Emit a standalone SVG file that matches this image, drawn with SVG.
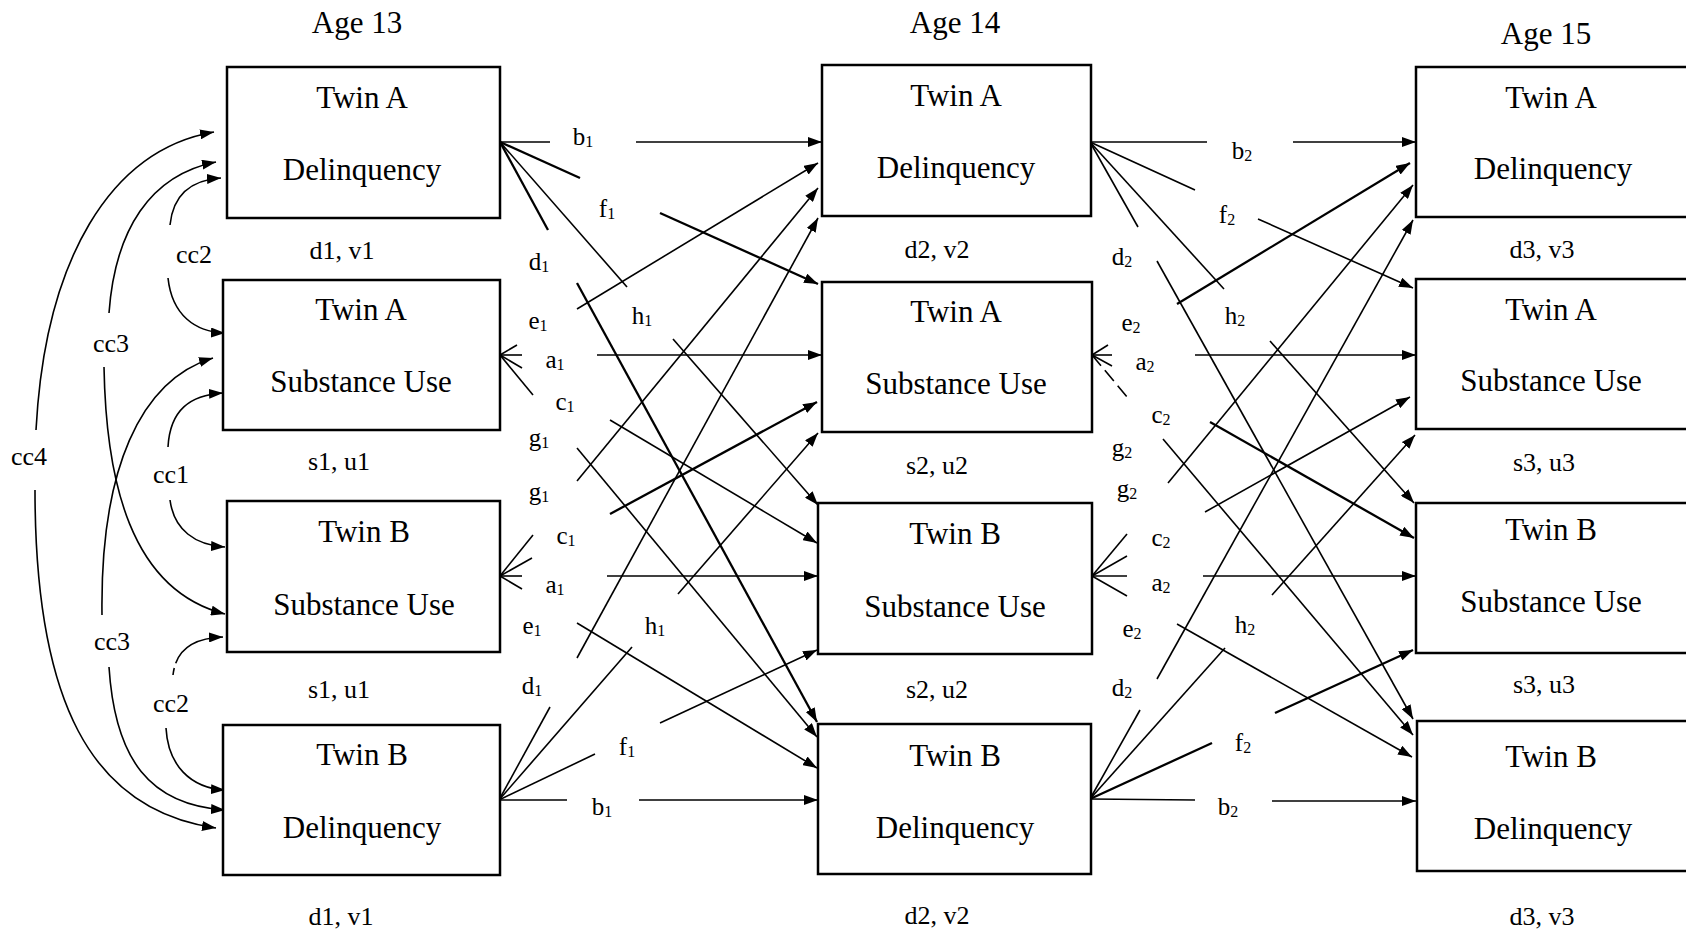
<svg xmlns="http://www.w3.org/2000/svg" width="1686" height="931" viewBox="0 0 1686 931">
<style>
.box{fill:#fff;stroke:#000;stroke-width:2.5}
.t{font-family:"Liberation Serif","Times New Roman",serif;font-size:31px;text-anchor:middle;fill:#000}
.lb{font-family:"Liberation Serif","Times New Roman",serif;font-size:26px;text-anchor:middle;fill:#000}
.pl{font-family:"Liberation Serif","Times New Roman",serif;font-size:25px;text-anchor:middle;fill:#000}
.sub{font-size:16px}
.c{fill:none;stroke:#000;stroke-width:1.6}
.k{stroke-width:2.3}
</style>
<defs>
<marker id="ah" markerWidth="14" markerHeight="10" refX="14" refY="5" orient="auto" markerUnits="userSpaceOnUse"><path d="M0,0 L14,5 L0,10 z" fill="#000"/></marker>
</defs>
<rect width="1686" height="931" fill="#fff"/>

<g id="headers">
<text class="t" x="357" y="33">Age 13</text>
<text class="t" x="955" y="33">Age 14</text>
<text class="t" x="1546" y="44">Age 15</text>
</g>

<g id="connectors">
<!-- left correlation curves -->
<path class="c" d="M36,430 C45,260 110,150 214,132" marker-end="url(#ah)"/>
<path class="c" d="M35,490 C35,700 90,810 216,828" marker-end="url(#ah)"/>
<path class="c" d="M109,313 C115,230 150,175 216,162" marker-end="url(#ah)"/>
<path class="c" d="M104,367 C106,480 130,590 225,614" marker-end="url(#ah)"/>
<path class="c" d="M102,615 C100,470 140,380 213,358" marker-end="url(#ah)"/>
<path class="c" d="M109,667 C115,760 150,805 225,810" marker-end="url(#ah)"/>
<path class="c" d="M168,447 C170,410 190,395 223,393" marker-end="url(#ah)"/>
<path class="c" d="M170,500 C174,530 195,545 225,547" marker-end="url(#ah)"/>
<path class="c" d="M170,225 C173,195 190,180 221,178" marker-end="url(#ah)"/>
<path class="c" d="M168,278 C172,315 195,332 225,333" marker-end="url(#ah)"/>
<path class="c" d="M173,675 C176,650 192,638 223,637" stroke-dasharray="7 5 200" marker-end="url(#ah)"/>
<path class="c" d="M166,728 C168,765 190,788 225,790" marker-end="url(#ah)"/>

<!-- Age 13 to Age 14 -->
<line class="c" x1="500" y1="142" x2="550" y2="142"/>
<line class="c" x1="636" y1="142" x2="822" y2="142" marker-end="url(#ah)"/>
<line class="c k" x1="500" y1="142" x2="580" y2="178"/>
<line class="c k" x1="660" y1="213" x2="818" y2="284" marker-end="url(#ah)"/>
<line class="c" x1="500" y1="142" x2="627" y2="287"/>
<line class="c" x1="673" y1="339" x2="818" y2="505" marker-end="url(#ah)"/>
<line class="c k" x1="500" y1="142" x2="548" y2="230"/>
<line class="c k" x1="577" y1="283" x2="817" y2="722" marker-end="url(#ah)"/>

<line class="c" x1="500" y1="355" x2="517" y2="345"/>
<line class="c" x1="577" y1="309" x2="818" y2="163" marker-end="url(#ah)"/>
<line class="c" x1="500" y1="355" x2="522" y2="355"/>
<line class="c" x1="597" y1="355" x2="822" y2="355" marker-end="url(#ah)"/>
<line class="c" x1="500" y1="355" x2="522" y2="368"/>
<line class="c" x1="610" y1="420" x2="817" y2="543" marker-end="url(#ah)"/>
<line class="c" x1="500" y1="355" x2="533" y2="395"/>
<line class="c" x1="577" y1="448" x2="817" y2="737" marker-end="url(#ah)"/>

<line class="c" x1="500" y1="576" x2="533" y2="535"/>
<line class="c" x1="577" y1="481" x2="818" y2="188" marker-end="url(#ah)"/>
<line class="c" x1="500" y1="576" x2="532" y2="558"/>
<line class="c k" x1="610" y1="514" x2="817" y2="402" marker-end="url(#ah)"/>
<line class="c" x1="500" y1="576" x2="522" y2="576"/>
<line class="c" x1="607" y1="576" x2="818" y2="576" marker-end="url(#ah)"/>
<line class="c" x1="500" y1="576" x2="522" y2="589"/>
<line class="c" x1="577" y1="623" x2="817" y2="768" marker-end="url(#ah)"/>

<line class="c" x1="499" y1="800" x2="567" y2="800"/>
<line class="c" x1="639" y1="800" x2="818" y2="800" marker-end="url(#ah)"/>
<line class="c" x1="499" y1="800" x2="595" y2="754"/>
<line class="c" x1="660" y1="723" x2="817" y2="650" marker-end="url(#ah)"/>
<line class="c" x1="499" y1="800" x2="632" y2="647"/>
<line class="c" x1="678" y1="594" x2="818" y2="433" marker-end="url(#ah)"/>
<line class="c" x1="499" y1="800" x2="550" y2="707"/>
<line class="c" x1="577" y1="658" x2="818" y2="218" marker-end="url(#ah)"/>

<!-- Age 14 to Age 15 -->
<line class="c" x1="1090" y1="142" x2="1207" y2="142"/>
<line class="c" x1="1293" y1="142" x2="1416" y2="142" marker-end="url(#ah)"/>
<line class="c" x1="1090" y1="142" x2="1195" y2="190"/>
<line class="c" x1="1258" y1="219" x2="1413" y2="288" marker-end="url(#ah)"/>
<line class="c" x1="1090" y1="142" x2="1224" y2="289"/>
<line class="c" x1="1270" y1="341" x2="1414" y2="503" marker-end="url(#ah)"/>
<line class="c" x1="1090" y1="142" x2="1138" y2="227"/>
<line class="c" x1="1157" y1="261" x2="1413" y2="719" marker-end="url(#ah)"/>

<line class="c" x1="1092" y1="355" x2="1108" y2="345"/>
<line class="c k" x1="1177" y1="304" x2="1410" y2="163" marker-end="url(#ah)"/>
<line class="c" x1="1092" y1="355" x2="1112" y2="355"/>
<line class="c" x1="1195" y1="355" x2="1416" y2="355" marker-end="url(#ah)"/>
<line class="c" x1="1092" y1="355" x2="1112" y2="366"/>
<line class="c k" x1="1210" y1="422" x2="1414" y2="538" marker-end="url(#ah)"/>
<line class="c" x1="1092" y1="355" x2="1128" y2="398" stroke-dasharray="14 6"/>
<line class="c" x1="1163" y1="439" x2="1413" y2="735" marker-end="url(#ah)"/>

<line class="c" x1="1092" y1="576" x2="1127" y2="534"/>
<line class="c" x1="1168" y1="483" x2="1413" y2="185" marker-end="url(#ah)"/>
<line class="c" x1="1092" y1="576" x2="1127" y2="556"/>
<line class="c" x1="1205" y1="512" x2="1410" y2="397" marker-end="url(#ah)"/>
<line class="c" x1="1092" y1="576" x2="1127" y2="576"/>
<line class="c" x1="1203" y1="576" x2="1416" y2="576" marker-end="url(#ah)"/>
<line class="c" x1="1092" y1="576" x2="1127" y2="596"/>
<line class="c" x1="1177" y1="624" x2="1412" y2="757" marker-end="url(#ah)"/>

<line class="c" x1="1090" y1="799" x2="1195" y2="800"/>
<line class="c" x1="1272" y1="801" x2="1416" y2="801" marker-end="url(#ah)"/>
<line class="c k" x1="1090" y1="799" x2="1212" y2="743"/>
<line class="c k" x1="1275" y1="713" x2="1413" y2="650" marker-end="url(#ah)"/>
<line class="c" x1="1090" y1="799" x2="1225" y2="648"/>
<line class="c" x1="1272" y1="595" x2="1415" y2="435" marker-end="url(#ah)"/>
<line class="c" x1="1090" y1="799" x2="1140" y2="710"/>
<line class="c" x1="1157" y1="679" x2="1413" y2="220" marker-end="url(#ah)"/>
</g>

<g id="connector-labels">
<text class="lb" x="194" y="263">cc2</text>
<text class="lb" x="111" y="352">cc3</text>
<text class="lb" x="29" y="465">cc4</text>
<text class="lb" x="171" y="483">cc1</text>
<text class="lb" x="112" y="650">cc3</text>
<text class="lb" x="171" y="712">cc2</text>

<text class="pl" x="583" y="145">b<tspan class="sub" dy="2">1</tspan></text>
<text class="pl" x="607" y="217">f<tspan class="sub" dy="2">1</tspan></text>
<text class="pl" x="539" y="270">d<tspan class="sub" dy="2">1</tspan></text>
<text class="pl" x="538" y="329">e<tspan class="sub" dy="2">1</tspan></text>
<text class="pl" x="642" y="324">h<tspan class="sub" dy="2">1</tspan></text>
<text class="pl" x="555" y="368">a<tspan class="sub" dy="2">1</tspan></text>
<text class="pl" x="565" y="410">c<tspan class="sub" dy="2">1</tspan></text>
<text class="pl" x="539" y="446">g<tspan class="sub" dy="2">1</tspan></text>
<text class="pl" x="539" y="500">g<tspan class="sub" dy="2">1</tspan></text>
<text class="pl" x="566" y="544">c<tspan class="sub" dy="2">1</tspan></text>
<text class="pl" x="555" y="593">a<tspan class="sub" dy="2">1</tspan></text>
<text class="pl" x="532" y="634">e<tspan class="sub" dy="2">1</tspan></text>
<text class="pl" x="655" y="634">h<tspan class="sub" dy="2">1</tspan></text>
<text class="pl" x="532" y="694">d<tspan class="sub" dy="2">1</tspan></text>
<text class="pl" x="627" y="755">f<tspan class="sub" dy="2">1</tspan></text>
<text class="pl" x="602" y="815">b<tspan class="sub" dy="2">1</tspan></text>

<text class="pl" x="1242" y="159">b<tspan class="sub" dy="2">2</tspan></text>
<text class="pl" x="1227" y="223">f<tspan class="sub" dy="2">2</tspan></text>
<text class="pl" x="1122" y="265">d<tspan class="sub" dy="2">2</tspan></text>
<text class="pl" x="1131" y="331">e<tspan class="sub" dy="2">2</tspan></text>
<text class="pl" x="1235" y="324">h<tspan class="sub" dy="2">2</tspan></text>
<text class="pl" x="1145" y="370">a<tspan class="sub" dy="2">2</tspan></text>
<text class="pl" x="1161" y="423">c<tspan class="sub" dy="2">2</tspan></text>
<text class="pl" x="1122" y="456">g<tspan class="sub" dy="2">2</tspan></text>
<text class="pl" x="1127" y="497">g<tspan class="sub" dy="2">2</tspan></text>
<text class="pl" x="1161" y="546">c<tspan class="sub" dy="2">2</tspan></text>
<text class="pl" x="1161" y="591">a<tspan class="sub" dy="2">2</tspan></text>
<text class="pl" x="1132" y="637">e<tspan class="sub" dy="2">2</tspan></text>
<text class="pl" x="1245" y="633">h<tspan class="sub" dy="2">2</tspan></text>
<text class="pl" x="1122" y="696">d<tspan class="sub" dy="2">2</tspan></text>
<text class="pl" x="1243" y="751">f<tspan class="sub" dy="2">2</tspan></text>
<text class="pl" x="1228" y="815">b<tspan class="sub" dy="2">2</tspan></text>
</g>

<g id="a-del-13"><rect class="box" x="227" y="67" width="273" height="151"/><text class="t" x="362" y="108">Twin A</text><text class="t" x="362" y="180">Delinquency</text><text class="lb" x="342" y="259">d1, v1</text></g>
<g id="a-su-13"><rect class="box" x="223" y="280" width="277" height="150"/><text class="t" x="361" y="320">Twin A</text><text class="t" x="361" y="392">Substance Use</text><text class="lb" x="339" y="470">s1, u1</text></g>
<g id="b-su-13"><rect class="box" x="227" y="501" width="273" height="151"/><text class="t" x="364" y="542">Twin B</text><text class="t" x="364" y="615">Substance Use</text><text class="lb" x="339" y="698">s1, u1</text></g>
<g id="b-del-13"><rect class="box" x="223" y="725" width="277" height="150"/><text class="t" x="362" y="765">Twin B</text><text class="t" x="362" y="838">Delinquency</text><text class="lb" x="341" y="925">d1, v1</text></g>

<g id="a-del-14"><rect class="box" x="822" y="65" width="269" height="151"/><text class="t" x="956" y="106">Twin A</text><text class="t" x="956" y="178">Delinquency</text><text class="lb" x="937" y="258">d2, v2</text></g>
<g id="a-su-14"><rect class="box" x="822" y="282" width="270" height="150"/><text class="t" x="956" y="322">Twin A</text><text class="t" x="956" y="394">Substance Use</text><text class="lb" x="937" y="474">s2, u2</text></g>
<g id="b-su-14"><rect class="box" x="818" y="503" width="274" height="151"/><text class="t" x="955" y="544">Twin B</text><text class="t" x="955" y="617">Substance Use</text><text class="lb" x="937" y="698">s2, u2</text></g>
<g id="b-del-14"><rect class="box" x="818" y="724" width="273" height="150"/><text class="t" x="955" y="766">Twin B</text><text class="t" x="955" y="838">Delinquency</text><text class="lb" x="937" y="924">d2, v2</text></g>

<g id="a-del-15"><rect class="box" x="1416" y="67" width="272" height="150"/><text class="t" x="1551" y="108">Twin A</text><text class="t" x="1553" y="179">Delinquency</text><text class="lb" x="1542" y="258">d3, v3</text></g>
<g id="a-su-15"><rect class="box" x="1416" y="279" width="272" height="150"/><text class="t" x="1551" y="320">Twin A</text><text class="t" x="1551" y="391">Substance Use</text><text class="lb" x="1544" y="471">s3, u3</text></g>
<g id="b-su-15"><rect class="box" x="1416" y="503" width="272" height="150"/><text class="t" x="1551" y="540">Twin B</text><text class="t" x="1551" y="612">Substance Use</text><text class="lb" x="1544" y="693">s3, u3</text></g>
<g id="b-del-15"><rect class="box" x="1417" y="721" width="271" height="150"/><text class="t" x="1551" y="767">Twin B</text><text class="t" x="1553" y="839">Delinquency</text><text class="lb" x="1542" y="925">d3, v3</text></g>
</svg>
